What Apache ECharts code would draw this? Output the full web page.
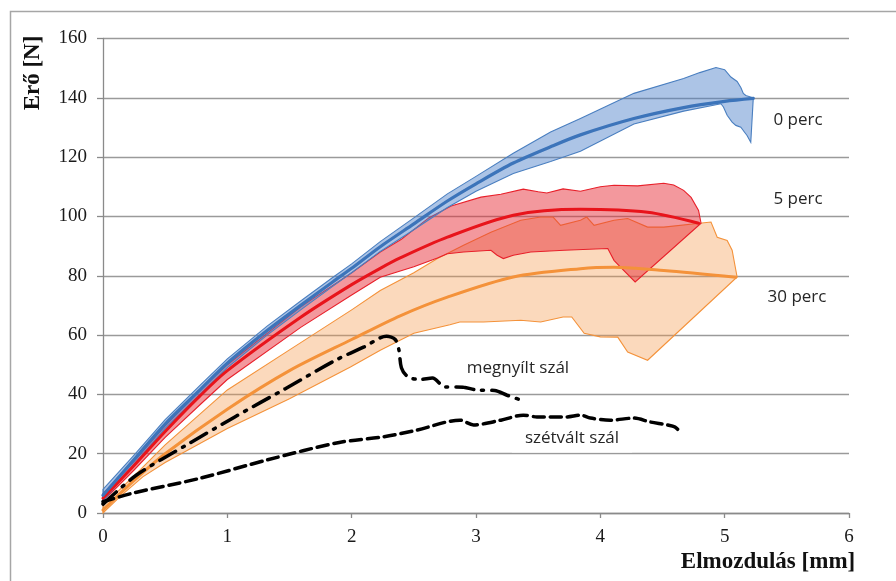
<!DOCTYPE html>
<html>
<head>
<meta charset="utf-8">
<script src="https://cdn.jsdelivr.net/npm/echarts@6/dist/echarts.min.js"></script>
<style>
  html, body { margin: 0; padding: 0; background: #fff; }
  #chart { width: 896px; height: 581px; }
</style>
</head>
<body>
<div id="chart"></div>
<script>
// Displacement [mm] vs force [N] – fibre pull tests after 0, 5 and 30 minutes.
const xTicks = [0, 1, 2, 3, 4, 5, 6];
const yTicks = [0, 20, 40, 60, 80, 100, 120, 140, 160];
const groupLabels = ['0 perc', '5 perc', '30 perc'];
const curveLabels = ['megnyílt szál', 'szétvált szál'];

// 0 perc: mean curve and scatter envelope
const blueMean = [[0,6],[0.25,18],[0.5,30],[0.78,41.5],[1,50.5],[1.32,61.5],[1.59,70],[1.85,78],[2,82.5],[2.23,89.8],[2.5,97.5],[2.77,105.2],[3,111],[3.3,118],[3.6,123.5],[3.84,127.5],[4.27,133],[4.67,136.7],[5.0,138.8],[5.23,139.8]];
const blueUpper = [[0,8],[0.25,19.5],[0.5,31.5],[0.78,43],[1,52],[1.32,63],[1.59,71.5],[1.85,79.5],[2,84],[2.23,91.5],[2.5,99.5],[2.77,107.6],[3,113.5],[3.3,121.3],[3.6,128.5],[3.84,133],[4.27,141.5],[4.67,146.5],[4.8,148.5],[4.93,150.2],[5.0,149.5],[5.05,147],[5.1,145.5],[5.13,143.5],[5.15,141.5],[5.17,140.8],[5.23,140]];
const blueLower = [[0,4],[0.25,16.5],[0.5,28.5],[0.78,40],[1,49],[1.32,60],[1.59,68.5],[1.85,76.5],[2,81],[2.23,88.2],[2.5,95.5],[2.77,103],[3,108.5],[3.3,114.5],[3.6,118.5],[3.84,122],[4.27,131.2],[4.67,135.5],[4.97,138],[4.99,136.9],[5.02,134.1],[5.06,131.8],[5.09,130.7],[5.13,130.1],[5.16,128.4],[5.18,127.3],[5.21,125],[5.23,139.8]];

// 5 perc
const redMean = [[0,5],[0.25,16],[0.5,27.5],[0.78,39.5],[1,48],[1.59,66],[2,77],[2.23,82.5],[2.39,86],[2.77,93],[3.3,100.4],[3.84,102.4],[4.38,101.4],[4.79,97.7]];
const redUpper = [[0,6.5],[0.25,17.5],[0.5,29.5],[0.78,41.5],[1,50],[1.59,69.5],[2,81],[2.23,88],[2.4,92.3],[2.62,99.5],[2.8,103.5],[3.04,106.5],[3.2,107.5],[3.38,109.2],[3.5,108.3],[3.57,107.9],[3.7,109.3],[3.84,108.5],[4.0,110],[4.11,110.5],[4.3,110.3],[4.51,111.2],[4.59,110.6],[4.67,108.8],[4.73,106.4],[4.79,102],[4.81,97.7]];
const redLower = [[0,4],[0.25,14.5],[0.5,25.5],[0.78,36.5],[1,45],[1.59,62.6],[2,73.5],[2.23,79.5],[2.5,83],[2.69,86],[2.77,87.4],[2.9,88],[3.12,88.6],[3.17,86.9],[3.22,85.8],[3.3,86.9],[3.44,88],[3.71,88.6],[4.06,89.2],[4.11,85.2],[4.16,83],[4.28,77.9],[4.81,97.7]];

// 30 perc
const orangeMean = [[0,1],[0.25,11],[0.5,20],[1,35],[1.5,48],[2,58.5],[2.39,66.5],[2.77,72.8],[3.3,79.6],[3.84,82.4],[4.11,82.9],[4.51,81.8],[5.09,79.5]];
const orangeUpper = [[0,2.5],[0.25,12.5],[0.5,23],[1,41.5],[1.5,55],[2,68.5],[2.23,75],[2.5,81],[2.69,85.8],[2.9,90.3],[3.12,94.7],[3.36,98.7],[3.52,99.8],[3.62,99.8],[3.68,97],[3.84,98.7],[3.89,99.8],[3.95,97],[4.11,98.7],[4.22,99.3],[4.38,96.4],[4.51,96.4],[4.78,97.6],[4.89,98.1],[4.94,93],[5.02,91.9],[5.06,88.6],[5.1,79.6]];
const orangeLower = [[0,0],[0.15,6],[0.32,12.2],[0.5,17],[1,28.5],[1.5,38.5],[1.99,49.2],[2.23,54.9],[2.5,60.6],[2.79,63.5],[2.87,64.4],[3.06,64.4],[3.36,65],[3.52,64.4],[3.7,66.1],[3.77,66.1],[3.87,60.6],[4.0,59.4],[4.14,59.3],[4.22,54.3],[4.38,51.5],[5.1,79.6]];

// single-fibre curves
const openedFibre = [[0,3],[0.27,12.8],[0.67,22.9],[1.06,32.4],[1.47,42],[1.87,51.5],[2.1,56],[2.28,59.6],[2.35,58.5],[2.38,55],[2.4,49],[2.45,46],[2.55,45],[2.65,45.5],[2.75,42.5],[2.9,42.4],[3.0,41.5],[3.15,41.3],[3.25,39.7],[3.34,38.4]];
const splitFibre = [[0,3.8],[0.24,6.7],[0.78,11.7],[1.32,17.9],[1.9,23.8],[2.26,25.7],[2.52,27.9],[2.87,31.3],[2.98,29.7],[3.2,31.3],[3.38,33],[3.49,32.4],[3.73,32.4],[3.84,33],[3.92,32],[4.08,31.3],[4.27,32],[4.4,30.7],[4.54,29.7],[4.6,29],[4.65,26.9]];

const chart = echarts.init(document.getElementById('chart'), null, { renderer: 'canvas' });

function band(name, upper, lower, fill, stroke) {
  const pts = upper.concat(lower.slice().reverse());
  return {
    type: 'custom',
    name: name,
    silent: true,
    data: pts,
    encode: { x: 0, y: 1 },
    renderItem: function (params, api) {
      if (params.dataIndex !== 0) return null;
      return {
        type: 'polygon',
        shape: { points: pts.map(function (p) { return api.coord(p); }) },
        style: { fill: fill, stroke: stroke, lineWidth: 1.1 }
      };
    }
  };
}

function curve(name, data, color, width, type) {
  return {
    type: 'line', name: name, data: data, showSymbol: false, smooth: 0.3, silent: true,
    lineStyle: { color: color, width: width, type: type || 'solid', cap: 'round' }
  };
}

const serif = '"Liberation Serif", "Times New Roman", serif';
const sans = '"Open Sans", "Noto Sans", sans-serif';

const labelText = (text, x, y, extra) => ({
  type: 'text', x: x, y: y, z: 50,
  style: Object.assign({ text: text, font: '17px ' + sans, fill: '#262626', align: 'center', verticalAlign: 'middle' }, extra || {})
});

chart.setOption({
  animation: false,
  grid: { left: 103, right: 47, top: 38.5, bottom: 68 },
  xAxis: {
    type: 'value', min: xTicks[0], max: xTicks[xTicks.length - 1], interval: 1,
    axisLine: { show: true, lineStyle: { color: '#8a8a8a', width: 1.3 } },
    axisTick: { show: true, length: 5, lineStyle: { color: '#8a8a8a', width: 1.3 } },
    axisLabel: { color: '#1a1a1a', fontFamily: serif, fontSize: 19, margin: 15 },
    splitLine: { show: false }
  },
  yAxis: {
    type: 'value', min: yTicks[0], max: yTicks[yTicks.length - 1], interval: 20,
    axisLine: { show: true, lineStyle: { color: '#8a8a8a', width: 1.3 } },
    axisTick: { show: true, length: 6, lineStyle: { color: '#8a8a8a', width: 1.3 } },
    axisLabel: { color: '#1a1a1a', fontFamily: serif, fontSize: 19, margin: 16 },
    splitLine: { show: true, lineStyle: { color: '#9a9a9a', width: 1.3 } }
  },
  series: [
    band('30 perc band', orangeUpper, orangeLower, 'rgba(245,150,70,0.36)', '#f4923a'),
    band('5 perc band', redUpper, redLower, 'rgba(230,40,50,0.48)', '#e8202a'),
    band('0 perc band', blueUpper, blueLower, 'rgba(70,125,200,0.45)', '#4a7fc0'),
    curve('30 perc', orangeMean, '#f4923a', 3),
    curve('5 perc', redMean, '#e8141b', 3),
    curve('0 perc', blueMean, '#3c74ba', 3.2),
    curve('megnyílt szál', openedFibre, '#000', 3.5, [18, 8, 2, 8]),
    curve('szétvált szál', splitFibre, '#000', 3.5, [11, 6])
  ],
  graphic: [
    { type: 'rect', z: -10, shape: { x: 10.5, y: 11.5, width: 1000, height: 1000 },
      style: { fill: 'none', stroke: '#a6a6a6', lineWidth: 1.5 } },
    { type: 'text', x: 33, y: 73, rotation: Math.PI / 2, z: 50,
      style: { text: 'Erő [N]', font: 'bold 23px ' + serif, fill: '#111', align: 'center', verticalAlign: 'middle' } },
    { type: 'text', x: 768, y: 562, z: 50,
      style: { text: 'Elmozdulás [mm]', font: 'bold 23px ' + serif, fill: '#111', align: 'center', verticalAlign: 'middle' } },
    labelText(groupLabels[0], 798, 120),
    labelText(groupLabels[1], 798, 199),
    labelText(groupLabels[2], 797, 297),
    labelText(curveLabels[0], 518, 368),
    labelText(curveLabels[1], 572, 438, { backgroundColor: '#fff', padding: [4, 13, 8, 13] })
  ]
});
</script>
</body>
</html>
